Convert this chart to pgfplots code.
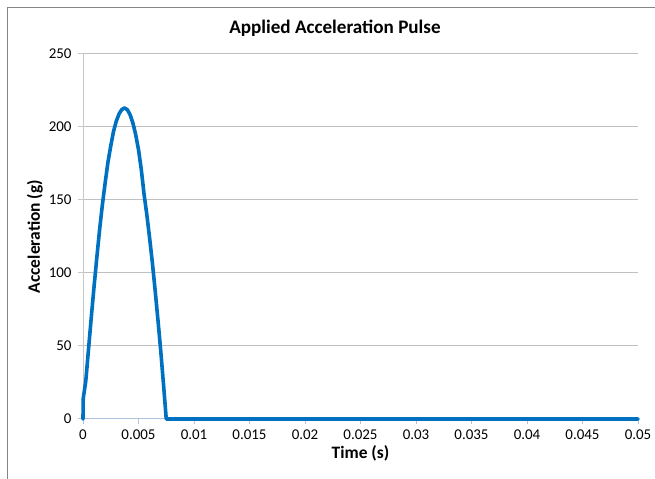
\documentclass[border=0pt]{standalone}
\usepackage{pgfplots}
\pgfplotsset{compat=1.18}
\usepackage{fontspec}
\setmainfont{Carlito}
\definecolor{pulseblue}{RGB}{0,112,192}
\definecolor{framegray}{RGB}{134,134,134}
\definecolor{gridgray}{RGB}{192,192,192}
\definecolor{xaxisline}{RGB}{176,194,222}
\definecolor{yaxisline}{RGB}{200,200,200}

\begin{document}
\begin{tikzpicture}
% chart-area frame (cropped on the right and bottom)
\draw[framegray, line width=1bp] (7bp,-30bp) -- (7bp,471bp) -- (700bp,471bp);
\begin{axis}[
  at={(83bp,60bp)}, anchor=south west,
  scale only axis, width=555bp, height=365bp,
  xmin=0, xmax=0.05, ymin=0, ymax=250,
  scaled x ticks=false, scaled y ticks=false,
  axis x line*=bottom, axis y line*=left,
  x axis line style={-, xaxisline, line width=1bp},
  y axis line style={-, yaxisline, line width=1bp},
  tick align=outside, major tick length=5bp,
  xtick={0,0.005,0.01,0.015,0.02,0.025,0.03,0.035,0.04,0.045,0.05},
  xticklabels={0,0.005,0.01,0.015,0.02,0.025,0.03,0.035,0.04,0.045,0.05},
  ytick={0,50,100,150,200,250},
  yticklabels={0,50,100,150,200,250},
  x tick style={xaxisline, line width=1bp},
  y tick style={yaxisline, line width=1bp},
  ymajorgrids, major grid style={gridgray, line width=1bp},
  tick label style={font=\fontsize{15}{18}\selectfont, text=black},
  xticklabel style={yshift=-2bp},
  yticklabel style={xshift=-3bp},
  title={Applied Acceleration Pulse},
  title style={font=\fontsize{19.2}{22}\selectfont\bfseries, at={(0.454,1)}, anchor=south, yshift=8bp},
  xlabel={Time (s)},
  xlabel style={font=\fontsize{17.5}{20}\selectfont\bfseries, yshift=1bp},
  ylabel={Acceleration (g)},
  ylabel style={font=\fontsize{17.5}{20}\selectfont\bfseries, yshift=-1bp},
  clip=false,
]
\addplot[pulseblue, line width=3.6bp, line join=round, line cap=round] coordinates {
  (0,0) (0.00002,14) (0.00025,26) (0.0005,48) (0.00075,70) (0.001,91)
  (0.00125,111) (0.0015,130) (0.00175,147) (0.002,162) (0.00225,176)
  (0.0025,187) (0.00275,197) (0.003,204) (0.00325,209) (0.0035,212)
  (0.00375,213) (0.004,211.8) (0.00425,208.3) (0.0045,202.6) (0.00475,194.6)
  (0.005,184.5) (0.00525,171) (0.0055,154) (0.00575,140) (0.006,124)
  (0.00625,107) (0.0065,88) (0.00675,68) (0.007,47) (0.00725,24)
  (0.0075,0) (0.01,0) (0.02,0) (0.03,0) (0.04,0) (0.05,0)
};
\end{axis}
\pgfresetboundingbox
\useasboundingbox (0bp,0bp) rectangle (655bp,479bp);
\end{tikzpicture}
\end{document}
